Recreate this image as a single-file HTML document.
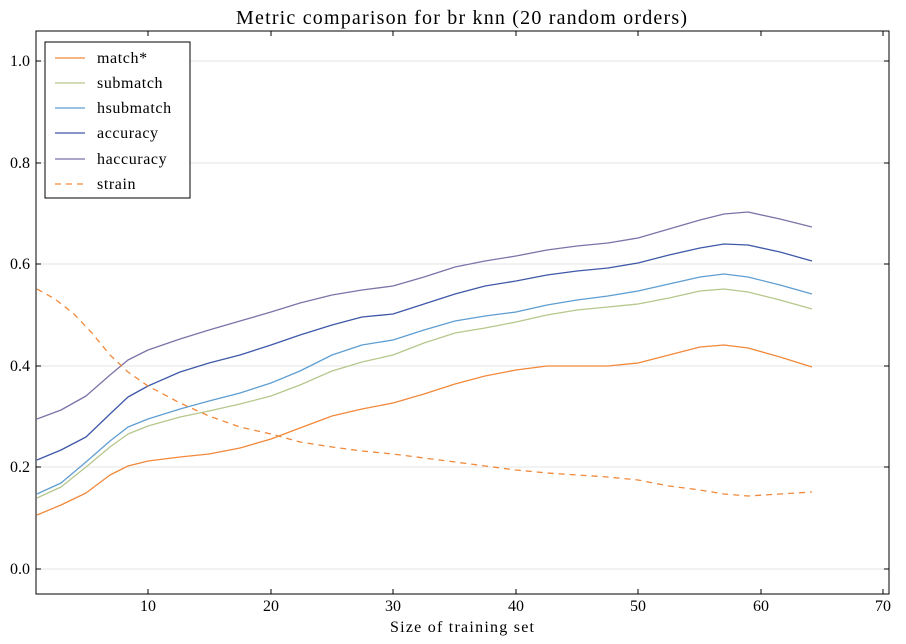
<!DOCTYPE html>
<html><head><meta charset="utf-8"><style>
body{margin:0;background:#fff;}
svg{display:block;font-family:"Liberation Serif","DejaVu Serif",serif;}
</style></head><body>
<svg width="906" height="644" xmlns="http://www.w3.org/2000/svg">
<rect width="906" height="644" fill="#fff"/>
<text x="236" y="24" font-size="20" textLength="451" lengthAdjust="spacing">Metric comparison for br knn (20 random orders)</text>
<g stroke="#e6e6e6" stroke-width="1">
<line x1="36" x2="889" y1="569" y2="569"/><line x1="36" x2="889" y1="467" y2="467"/>
<line x1="36" x2="889" y1="366" y2="366"/><line x1="36" x2="889" y1="264" y2="264"/>
<line x1="36" x2="889" y1="163" y2="163"/><line x1="36" x2="889" y1="61" y2="61"/>
</g>
<g fill="none" stroke-width="1.3" stroke-linejoin="round">
<polyline stroke="#f0893b" points="37,515 61,505 86,493 110,475 128,466 148,461 180,457 209,454 240,448 271,439 300,428 332,416 362,409 393,403 424,394 455,384 485,376 516,370 547,366 577,366 608,366 638,363 669,355 700,347 724,345 748,348 780,357 812,367"/>
<polyline stroke="#b6c78c" points="37,498 61,487 86,467 110,447 128,434 148,426 180,417 209,411 240,404 271,396 300,385 332,371 362,362 393,355 424,343 455,333 485,328 516,322 547,315 577,310 608,307 638,304 669,298 700,291 724,289 748,292 780,300 812,309"/>
<polyline stroke="#5f9ed1" points="37,494 61,483 86,462 110,441 128,427 148,419 180,409 209,401 240,393 271,383 300,371 332,355 362,345 393,340 424,330 455,321 485,316 516,312 547,305 577,300 608,296 638,291 669,284 700,277 724,274 748,277 780,285 812,294"/>
<polyline stroke="#3f58a8" points="37,460 61,450 86,437 110,414 128,397 148,386 180,372 209,363 240,355 271,345 300,335 332,325 362,317 393,314 424,304 455,294 485,286 516,281 547,275 577,271 608,268 638,263 669,255 700,248 724,244 748,245 780,252 812,261"/>
<polyline stroke="#7e72a8" points="37,419 61,410 86,396 110,375 128,360 148,350 180,339 209,330 240,321 271,312 300,303 332,295 362,290 393,286 424,277 455,267 485,261 516,256 547,250 577,246 608,243 638,238 669,229 700,220 724,214 748,212 780,219 812,227"/>
<polyline stroke="#f0893b" stroke-dasharray="6,5" points="37,289 55,299 74,314 92,333 110,355 128,372 148,386 180,403 209,416 240,427 271,434 300,442 332,447 362,451 393,454 424,458 455,462 485,466 516,470 547,473 577,475 608,477 638,480 669,486 700,490 724,494 748,496 780,494 812,492"/>
</g>
<rect x="36" y="31" width="853" height="563" fill="none" stroke="#000" stroke-width="1"/>
<g stroke="#000" stroke-width="1">
<line x1="148" x2="148" y1="594" y2="589"/><line x1="271" x2="271" y1="594" y2="589"/>
<line x1="393" x2="393" y1="594" y2="589"/><line x1="516" x2="516" y1="594" y2="589"/>
<line x1="638" x2="638" y1="594" y2="589"/><line x1="761" x2="761" y1="594" y2="589"/>
<line x1="148" x2="148" y1="31" y2="36"/><line x1="271" x2="271" y1="31" y2="36"/>
<line x1="393" x2="393" y1="31" y2="36"/><line x1="516" x2="516" y1="31" y2="36"/>
<line x1="638" x2="638" y1="31" y2="36"/><line x1="761" x2="761" y1="31" y2="36"/>
<line x1="883" x2="883" y1="31" y2="36"/><line x1="883" x2="883" y1="594" y2="589"/>
<line x1="36" x2="41" y1="569" y2="569"/><line x1="36" x2="41" y1="467" y2="467"/>
<line x1="36" x2="41" y1="366" y2="366"/><line x1="36" x2="41" y1="264" y2="264"/>
<line x1="36" x2="41" y1="163" y2="163"/><line x1="36" x2="41" y1="61" y2="61"/>
<line x1="889" x2="884" y1="569" y2="569"/><line x1="889" x2="884" y1="467" y2="467"/>
<line x1="889" x2="884" y1="366" y2="366"/><line x1="889" x2="884" y1="264" y2="264"/>
<line x1="889" x2="884" y1="163" y2="163"/><line x1="889" x2="884" y1="61" y2="61"/>
</g>
<g font-size="16" text-anchor="middle">
<text x="148" y="611">10</text><text x="271" y="611">20</text><text x="393" y="611">30</text>
<text x="516" y="611">40</text><text x="638" y="611">50</text><text x="761" y="611">60</text><text x="883" y="611">70</text>
</g>
<text x="390" y="632" font-size="16" textLength="144" lengthAdjust="spacing">Size of training set</text>
<g font-size="16" text-anchor="end">
<text x="30" y="574">0.0</text><text x="30" y="472">0.2</text><text x="30" y="371">0.4</text>
<text x="30" y="269">0.6</text><text x="30" y="168">0.8</text><text x="30" y="66">1.0</text>
</g>
<rect x="45" y="42" width="145" height="156" fill="#fff" stroke="#000" stroke-width="1"/>
<g stroke-width="1.3">
<line x1="55" x2="85" y1="58" y2="58" stroke="#f0893b"/>
<line x1="55" x2="85" y1="83" y2="83" stroke="#b6c78c"/>
<line x1="55" x2="85" y1="108" y2="108" stroke="#5f9ed1"/>
<line x1="55" x2="85" y1="133" y2="133" stroke="#3f58a8"/>
<line x1="55" x2="85" y1="159" y2="159" stroke="#7e72a8"/>
<line x1="55" x2="85" y1="184" y2="184" stroke="#f0893b" stroke-dasharray="6,5"/>
</g>
<g font-size="16" letter-spacing="0.6">
<text x="97" y="63">match*</text><text x="97" y="88">submatch</text><text x="97" y="113">hsubmatch</text>
<text x="97" y="138">accuracy</text><text x="97" y="164">haccuracy</text><text x="97" y="189">strain</text>
</g>
</svg>
</body></html>
